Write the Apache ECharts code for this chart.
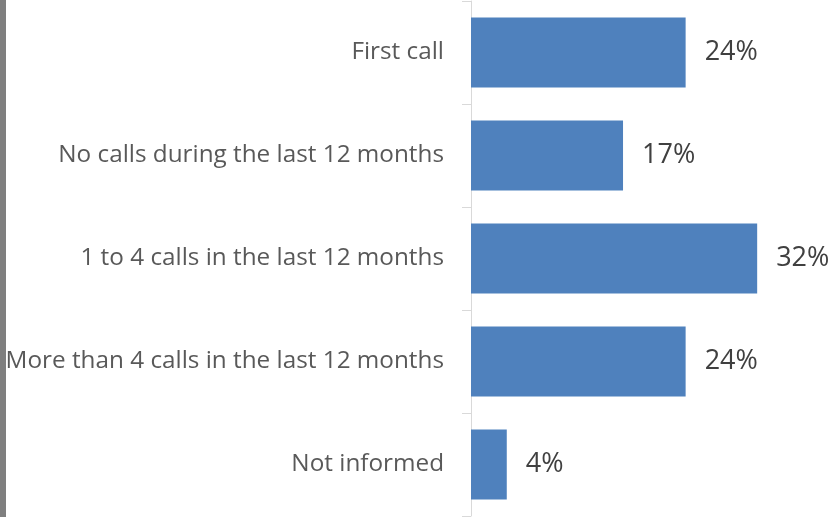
<!DOCTYPE html>
<html>
<head>
<meta charset="utf-8">
<script src="https://cdn.jsdelivr.net/npm/echarts@6/dist/echarts.min.js"></script>
<style>
html,body{margin:0;padding:0;background:#fff;}
#c{width:829px;height:517px;}
#bar{position:absolute;left:0;top:0;width:6px;height:517px;background:#7f7f7f;}
</style>
</head>
<body>
<div id="c"></div>
<div id="bar"></div>
<script>
const categories = [
  "First call",
  "No calls during the last 12 months",
  "1 to 4 calls in the last 12 months",
  "More than 4 calls in the last 12 months",
  "Not informed"
];
const values = [24, 17, 32, 24, 4];

const chart = echarts.init(document.getElementById('c'));
chart.setOption({
  animation: false,
  grid: { left: 471, right: 45, top: 1, bottom: 1, containLabel: false },
  xAxis: {
    type: 'value', min: 0, max: 35,
    show: false
  },
  yAxis: {
    type: 'category',
    inverse: true,
    data: categories,
    axisLine: { show: true, lineStyle: { color: '#d9d9d9', width: 1 } },
    axisTick: { show: true, length: 9, lineStyle: { color: '#d9d9d9' } },
    axisLabel: {
      margin: 27,
      padding: [4, 0, 0, 0],
      fontFamily: 'Open Sans',
      fontSize: 24.3,
      color: '#595959'
    }
  },
  series: [{
    type: 'bar',
    data: values,
    barCategoryGap: '32%',
    itemStyle: { color: '#4f81bd' },
    label: {
      show: true,
      position: 'right',
      distance: 19,
      padding: [4, 0, 0, 0],
      formatter: '{c}%',
      fontFamily: 'Open Sans',
      fontSize: 27,
      color: '#404040'
    }
  }]
});
</script>
</body>
</html>
